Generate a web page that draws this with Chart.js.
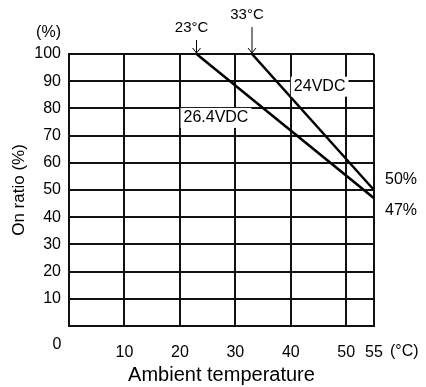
<!DOCTYPE html>
<html>
<head>
<meta charset="utf-8">
<script src="https://cdn.jsdelivr.net/npm/chart.js@4"></script>
<style>
  html, body { margin: 0; padding: 0; background: #fff; }
  #wrap { width: 426px; height: 387px; }
</style>
</head>
<body>
<div id="wrap"><canvas id="onRatioChart"></canvas></div>
<script>
// data
const seriesNames = ['26.4VDC', '24VDC'];
const tempStart = [23, 33];      // °C where derating begins
const ratioStart = [100, 100];   // %
const tempEnd = [55, 55];
const ratioEnd = [47, 50];
const xTicks = [0, 10, 20, 30, 40, 50, 55];
const yTicks = [0, 10, 20, 30, 40, 50, 60, 70, 80, 90, 100];

const FONT = '"Liberation Sans", Arial, sans-serif';

const datasets = seriesNames.map((name, i) => ({
  label: name,
  data: [{ x: tempStart[i], y: ratioStart[i] }, { x: tempEnd[i], y: ratioEnd[i] }],
  borderColor: '#000',
  borderWidth: 2.5,
  pointRadius: 0,
  fill: false,
  tension: 0
}));

// text labels drawn on top of the chart
const annotations = {
  id: 'annotations',
  afterDatasetsDraw(chart) {
    const { ctx, scales: { x, y }, chartArea } = chart;
    ctx.save();
    ctx.fillStyle = '#000';
    ctx.strokeStyle = '#000';
    ctx.textBaseline = 'middle';

    // series labels with white box behind them
    ctx.font = '16px ' + FONT;
    const tag = (txt, cx, cy) => {
      const w = ctx.measureText(txt).width;
      ctx.fillStyle = '#fff';
      ctx.fillRect(cx - w / 2 - 3, cy - 10, w + 6, 20);
      ctx.fillStyle = '#000';
      ctx.textAlign = 'center';
      ctx.fillText(txt, cx, cy);
    };
    tag(seriesNames[1], x.getPixelForValue(45.2), y.getPixelForValue(88));
    tag(seriesNames[0], x.getPixelForValue(26.5), y.getPixelForValue(76.5));

    // start temperatures with arrows
    ctx.font = '15px ' + FONT;
    [[0, 28], [1, 15]].forEach(([i, ty]) => {
      const px = x.getPixelForValue(tempStart[i]);
      ctx.textAlign = 'center';
      ctx.fillText(tempStart[i] + '°C', px - 5, ty);
      const top = ty + 12, bot = chartArea.top - 1;
      ctx.lineWidth = 1;
      ctx.beginPath();
      ctx.moveTo(px, top); ctx.lineTo(px, bot);
      ctx.moveTo(px - 4, bot - 5); ctx.lineTo(px, bot); ctx.lineTo(px + 4, bot - 5);
      ctx.stroke();
    });

    // end values
    ctx.font = '16px ' + FONT;
    ctx.textAlign = 'left';
    ctx.fillText(ratioEnd[1] + '%', chartArea.right + 11, y.getPixelForValue(ratioEnd[1]) - 10);
    ctx.fillText(ratioEnd[0] + '%', chartArea.right + 11, y.getPixelForValue(ratioEnd[0]) + 12);

    // corner and unit labels
    ctx.textAlign = 'right';
    ctx.fillText('(%)', chartArea.left - 8, 33);
    ctx.textAlign = 'center';
    ctx.fillText('0', chartArea.left - 12, chartArea.bottom + 19);
    ctx.textAlign = 'left';
    ctx.fillText('(°C)', x.getPixelForValue(55) + 16, chartArea.bottom + 26);
    ctx.restore();
  }
};

const ctx = document.getElementById('onRatioChart').getContext('2d');
new Chart(ctx, {
  type: 'line',
  data: { datasets },
  plugins: [annotations],
  options: {
    responsive: true,
    maintainAspectRatio: false,
    animation: false,
    layout: { padding: { top: 54, right: 52, bottom: 0, left: 9 } },
    plugins: { legend: { display: false }, tooltip: { enabled: false } },
    scales: {
      x: {
        type: 'linear',
        min: 0,
        max: 55,
        afterBuildTicks: s => { s.ticks = xTicks.map(v => ({ value: v })); },
        afterFit: s => { s.height = 61; },
        grid: { color: '#111', lineWidth: 2, drawTicks: false },
        border: { color: '#111', width: 2 },
        ticks: {
          padding: 17,
          maxRotation: 0,
          autoSkip: false,
          color: '#000',
          font: { family: FONT, size: 16 },
          callback: v => (v === 0 ? '' : v)
        },
        title: {
          display: true,
          text: 'Ambient temperature',
          color: '#000',
          font: { family: FONT, size: 20 },
          padding: 0
        }
      },
      y: {
        min: 0,
        max: 100,
        afterBuildTicks: s => { s.ticks = yTicks.map(v => ({ value: v })); },
        afterFit: s => { s.width = 60; },
        grid: { color: '#111', lineWidth: 2, drawTicks: false },
        border: { color: '#111', width: 2 },
        ticks: {
          padding: 8,
          color: '#000',
          font: { family: FONT, size: 16 },
          callback: v => (v === 0 ? '' : v)
        },
        title: {
          display: true,
          text: 'On ratio (%)',
          color: '#000',
          font: { family: FONT, size: 17 },
          padding: { top: 0, bottom: 0 }
        }
      }
    }
  }
});
</script>
</body>
</html>
